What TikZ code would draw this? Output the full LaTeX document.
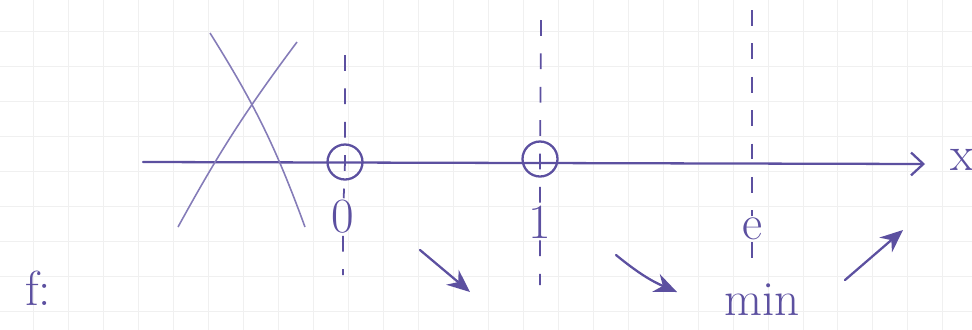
\documentclass[tikz,border=0pt]{standalone}
\usetikzlibrary{positioning,arrows.meta,calc}
\definecolor{ink}{RGB}{92,80,160}
\begin{document}
\begin{tikzpicture}[x=0.02cm, y=-0.02cm, >={Stealth[length=13pt,width=11pt]},
    pen/.style={draw=ink, line width=1.3pt, line cap=round},
    guide/.style={draw=ink, line width=1pt, dash pattern=on 9pt off 10pt},
    hand/.style={text=ink, font=\fontsize{28}{30}\selectfont, inner sep=1pt},
    root/.style={circle, draw=ink, line width=1.3pt, minimum size=0.7cm, inner sep=0pt},
    crossout/.style={draw=ink!75, line width=0.9pt}]
    \useasboundingbox (0,0) rectangle (972,329);
    \draw[black!6, line width=0.4pt, shift={(-2,-4)}, step=0.7cm] (0,0) grid (990,340);

    % axis and x
    \coordinate (ax0) at (143,162);
    \coordinate (ax1) at (925,164);
    \node[hand] (xlab) at (962,160) {x};
    \draw[pen, -{Straight Barb[length=7pt,width=13pt]}] (ax0) -- (ax1);

    % crossed out region
    \coordinate (k1) at (210,33);
    \coordinate (k2) at (305,227);
    \coordinate (k3) at (297,42);
    \coordinate (k4) at (178,227);
    \draw[crossout] (k1) to[bend left=6] (k2);
    \draw[crossout] (k3) to[bend right=4] (k4);

    % roots and minimum
    \node[root] (c0) at (345,162) {};
    \node[root] (c1) at (540,159) {};
    \node[hand] (n0) at (343,217) {0};
    \node[hand] (n1) at (540,222) {1};
    \node[hand] (ne) at (752,229) {e};
    \node[hand] (nmin) at (762,300) {min};
    \node[hand] (fname) at (38,288) {f:};

    \coordinate (t0) at (345,55);
    \coordinate (b0) at (343,275);
    \coordinate (t1) at (541,20);
    \coordinate (b1) at (540,285);
    \coordinate (te) at (752,10);
    \coordinate (be) at (752,272);
    \draw[guide] (t0) -- (c0.center) -- (n0) -- (b0);
    \draw[guide] (t1) -- (c1.center) -- (n1) -- (b1);
    \draw[guide] (te) -- (ne) -- (be);

    % variation
    \coordinate (v1s) at (420,250);
    \coordinate (v1e) at (470,292);
    \coordinate (v2s) at (616,255);
    \coordinate (v2e) at (677,292);
    \coordinate (v3s) at (845,280);
    \coordinate (v3e) at (903,230);
    \draw[pen, ->] (v1s) -- (v1e);
    \draw[pen, ->] (v2s) to[bend right=8] (v2e);
    \draw[pen, ->] (v3s) -- (v3e);
\end{tikzpicture}
\end{document}
